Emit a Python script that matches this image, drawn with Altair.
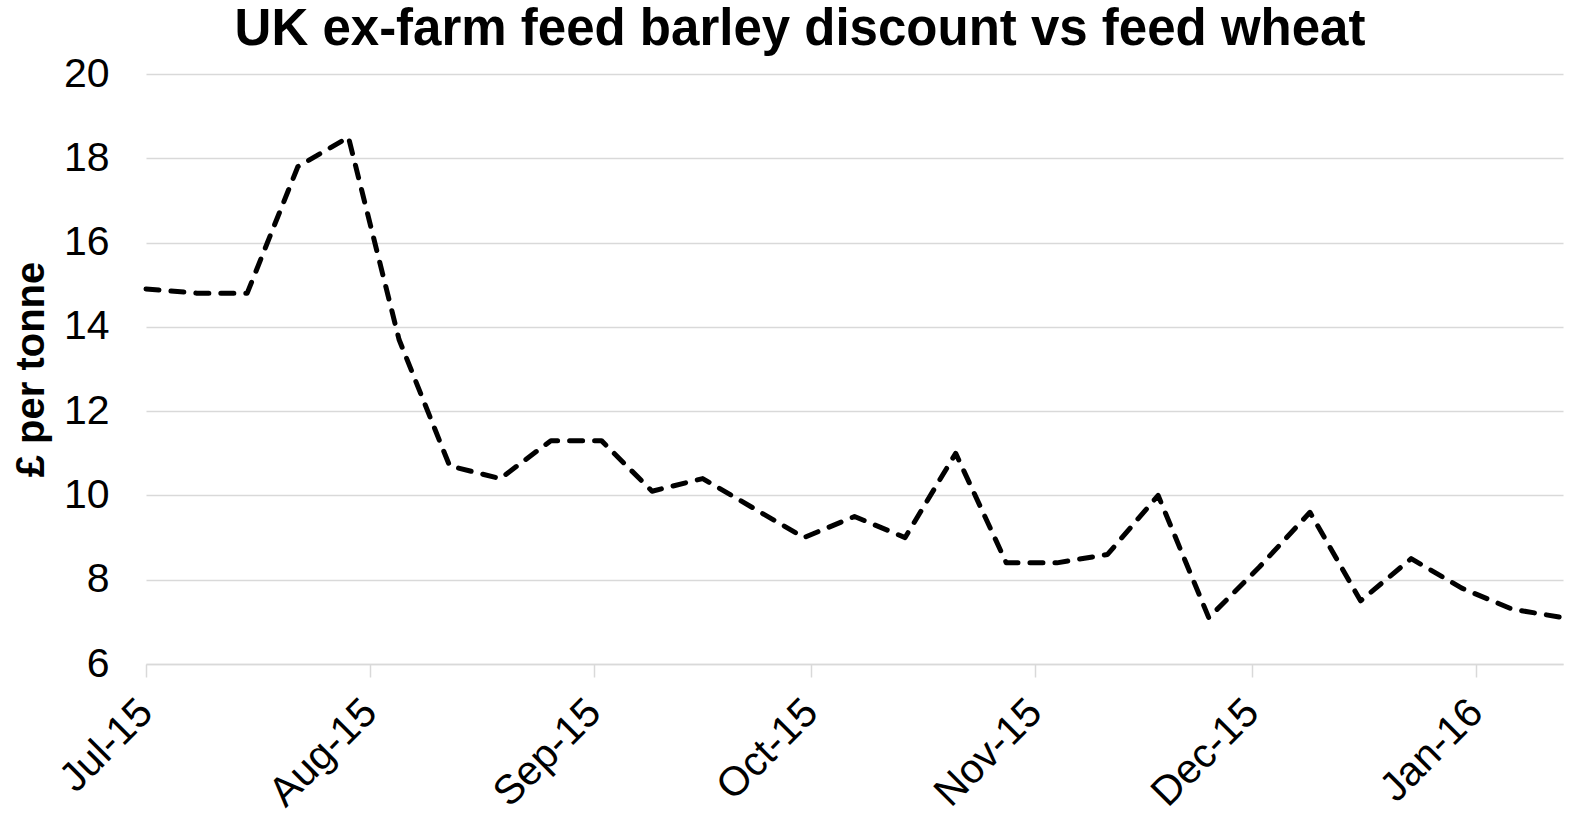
import altair as alt
import pandas as pd

# Weekly UK ex-farm feed barley discount to feed wheat (£/t)
week_dates = [
    "2015-07-01", "2015-07-08", "2015-07-15", "2015-07-22", "2015-07-29",
    "2015-08-05", "2015-08-12", "2015-08-19", "2015-08-26",
    "2015-09-02", "2015-09-09", "2015-09-16", "2015-09-23", "2015-09-30",
    "2015-10-07", "2015-10-14", "2015-10-21", "2015-10-28",
    "2015-11-04", "2015-11-11", "2015-11-18", "2015-11-25",
    "2015-12-02", "2015-12-09", "2015-12-16", "2015-12-23", "2015-12-30",
    "2016-01-06", "2016-01-13",
]
discount = [
    14.9, 14.8, 14.8, 17.8, 18.5,
    13.7, 10.7, 10.4, 11.3,
    11.3, 10.1, 10.4, 9.7, 9.0,
    9.5, 9.0, 11.0, 8.4,
    8.4, 8.6, 10.0, 7.1,
    8.3, 9.6, 7.5, 8.5, 7.8,
    7.3, 7.1,
]
y_ticks = [6, 8, 10, 12, 14, 16, 18, 20]
month_ticks = [
    (2015, 7), (2015, 8), (2015, 9), (2015, 10), (2015, 11), (2015, 12), (2016, 1),
]
chart_title = "UK ex-farm feed barley discount vs feed wheat"

df = pd.DataFrame({"date": week_dates, "discount": discount})

FONT = "Liberation Sans"

x_axis = alt.Axis(
    values=[alt.DateTime(year=y, month=m, date=1, utc=True) for y, m in month_ticks],
    format="%b-%y",
    labelAngle=-45,
    labelAlign="right",
    labelBaseline="middle",
    labelFont=FONT,
    labelFontSize=41,
    labelColor="#000000",
    labelPadding=29,
    labelOverlap=False,
    labelFlush=False,
    domainColor="#d9d9d9",
    domainWidth=1.5,
    tickColor="#d9d9d9",
    tickWidth=1.5,
    tickSize=13,
    grid=False,
    title=None,
)

y_axis = alt.Axis(
    values=y_ticks,
    labelFont=FONT,
    labelFontSize=41,
    labelColor="#000000",
    labelPadding=37,
    domain=False,
    ticks=False,
    grid=True,
    gridColor="#d9d9d9",
    gridWidth=1.5,
    title="£ per tonne",
    titleFont=FONT,
    titleFontSize=40,
    titleFontWeight="bold",
    titleColor="#000000",
    titlePadding=12,
)

x_enc = alt.X(
    "date:T",
    scale=alt.Scale(
        type="utc",
        domain=[
            alt.DateTime(year=2015, month=7, date=1, utc=True),
            alt.DateTime(year=2016, month=1, date=13, utc=True),
        ],
        nice=False,
    ),
    axis=x_axis,
)
y_enc = alt.Y(
    "discount:Q",
    scale=alt.Scale(domain=[6, 20], nice=False, zero=False),
    axis=y_axis,
)

line = (
    alt.Chart(df)
    .mark_line(
        color="#000000",
        strokeWidth=5,
        strokeDash=[13, 12],
        strokeCap="round",
        strokeJoin="round",
    )
    .encode(x=x_enc, y=y_enc)
)

# Chart heading, centred over the whole figure
heading = (
    alt.Chart(pd.DataFrame({"t": [chart_title]}))
    .mark_text(
        font=FONT,
        fontSize=51,
        fontWeight="bold",
        color="#000000",
        align="center",
        baseline="alphabetic",
    )
    .encode(text="t:N", x=alt.value(654), y=alt.value(-29))
)

chart = (
    alt.layer(line, heading)
    .properties(
        width=1417,
        height=590,
        background="#ffffff",
        autosize=alt.AutoSizeParams(type="none"),
        padding={"left": 146, "top": 74, "right": 6, "bottom": 151},
    )
    .configure_view(strokeWidth=0, stroke="transparent")
)

chart.save("out.html", embed_options={"renderer": "svg", "actions": False})
